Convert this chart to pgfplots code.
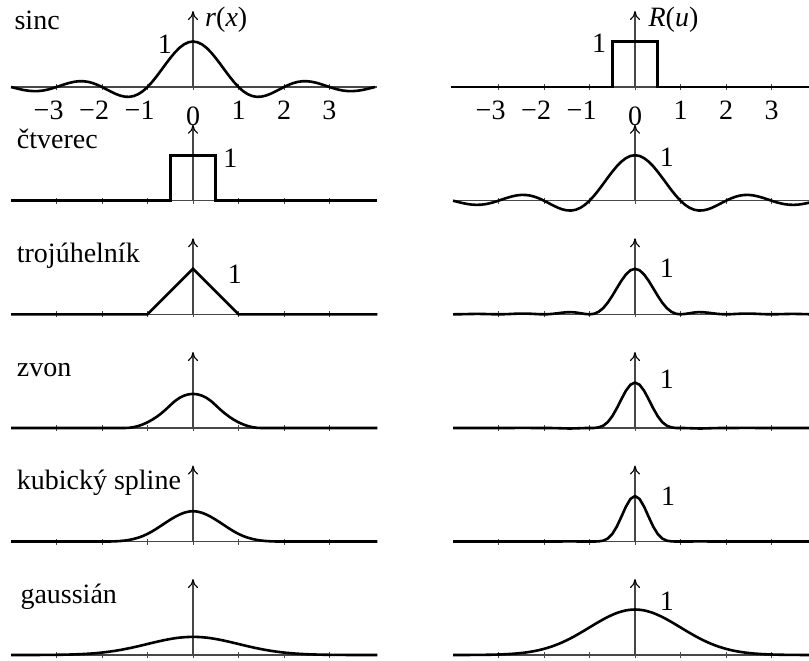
\documentclass[border=0pt]{standalone}
\usepackage{fontspec}
\setmainfont{Liberation Serif}
\usepackage{pgfplots}
\pgfplotsset{compat=1.18}
\usepackage{pgfplotstable}
\usetikzlibrary{arrows.meta}

\definecolor{axisgray}{gray}{0.28}

% sinc(u) = sin(pi u)/(pi u) and its powers, sampled every 0.1
\pgfplotstableread{
u s s2 s3 s4
-4.0 0.0000 0.0000 0.0000 0.0000
-3.9 -0.0252 0.0006 0.0000 0.0000
-3.8 -0.0492 0.0024 -0.0001 0.0000
-3.7 -0.0696 0.0048 -0.0003 0.0000
-3.6 -0.0841 0.0071 -0.0006 0.0000
-3.5 -0.0909 0.0083 -0.0008 0.0001
-3.4 -0.0890 0.0079 -0.0007 0.0001
-3.3 -0.0780 0.0061 -0.0005 0.0000
-3.2 -0.0585 0.0034 -0.0002 0.0000
-3.1 -0.0317 0.0010 0.0000 0.0000
-3.0 0.0000 0.0000 0.0000 0.0000
-2.9 0.0339 0.0012 0.0000 0.0000
-2.8 0.0668 0.0045 0.0003 0.0000
-2.7 0.0954 0.0091 0.0009 0.0001
-2.6 0.1164 0.0136 0.0016 0.0002
-2.5 0.1273 0.0162 0.0021 0.0003
-2.4 0.1261 0.0159 0.0020 0.0003
-2.3 0.1120 0.0125 0.0014 0.0002
-2.2 0.0850 0.0072 0.0006 0.0001
-2.1 0.0468 0.0022 0.0001 0.0000
-2.0 0.0000 0.0000 0.0000 0.0000
-1.9 -0.0518 0.0027 -0.0001 0.0000
-1.8 -0.1039 0.0108 -0.0011 0.0001
-1.7 -0.1515 0.0229 -0.0035 0.0005
-1.6 -0.1892 0.0358 -0.0068 0.0013
-1.5 -0.2122 0.0450 -0.0096 0.0020
-1.4 -0.2162 0.0468 -0.0101 0.0022
-1.3 -0.1981 0.0392 -0.0078 0.0015
-1.2 -0.1559 0.0243 -0.0038 0.0006
-1.1 -0.0894 0.0080 -0.0007 0.0001
-1.0 0.0000 0.0000 0.0000 0.0000
-0.9 0.1093 0.0119 0.0013 0.0001
-0.8 0.2339 0.0547 0.0128 0.0030
-0.7 0.3679 0.1353 0.0498 0.0183
-0.6 0.5046 0.2546 0.1284 0.0648
-0.5 0.6366 0.4053 0.2580 0.1643
-0.4 0.7568 0.5728 0.4335 0.3281
-0.3 0.8584 0.7368 0.6325 0.5429
-0.2 0.9355 0.8751 0.8187 0.7659
-0.1 0.9836 0.9675 0.9517 0.9361
0.0 1.0000 1.0000 1.0000 1.0000
0.1 0.9836 0.9675 0.9517 0.9361
0.2 0.9355 0.8751 0.8187 0.7659
0.3 0.8584 0.7368 0.6325 0.5429
0.4 0.7568 0.5728 0.4335 0.3281
0.5 0.6366 0.4053 0.2580 0.1643
0.6 0.5046 0.2546 0.1284 0.0648
0.7 0.3679 0.1353 0.0498 0.0183
0.8 0.2339 0.0547 0.0128 0.0030
0.9 0.1093 0.0119 0.0013 0.0001
1.0 0.0000 0.0000 0.0000 0.0000
1.1 -0.0894 0.0080 -0.0007 0.0001
1.2 -0.1559 0.0243 -0.0038 0.0006
1.3 -0.1981 0.0392 -0.0078 0.0015
1.4 -0.2162 0.0468 -0.0101 0.0022
1.5 -0.2122 0.0450 -0.0096 0.0020
1.6 -0.1892 0.0358 -0.0068 0.0013
1.7 -0.1515 0.0229 -0.0035 0.0005
1.8 -0.1039 0.0108 -0.0011 0.0001
1.9 -0.0518 0.0027 -0.0001 0.0000
2.0 0.0000 0.0000 0.0000 0.0000
2.1 0.0468 0.0022 0.0001 0.0000
2.2 0.0850 0.0072 0.0006 0.0001
2.3 0.1120 0.0125 0.0014 0.0002
2.4 0.1261 0.0159 0.0020 0.0003
2.5 0.1273 0.0162 0.0021 0.0003
2.6 0.1164 0.0136 0.0016 0.0002
2.7 0.0954 0.0091 0.0009 0.0001
2.8 0.0668 0.0045 0.0003 0.0000
2.9 0.0339 0.0012 0.0000 0.0000
3.0 0.0000 0.0000 0.0000 0.0000
3.1 -0.0317 0.0010 0.0000 0.0000
3.2 -0.0585 0.0034 -0.0002 0.0000
3.3 -0.0780 0.0061 -0.0005 0.0000
3.4 -0.0890 0.0079 -0.0007 0.0001
3.5 -0.0909 0.0083 -0.0008 0.0001
3.6 -0.0841 0.0071 -0.0006 0.0000
3.7 -0.0696 0.0048 -0.0003 0.0000
3.8 -0.0492 0.0024 -0.0001 0.0000
3.9 -0.0252 0.0006 0.0000 0.0000
4.0 0.0000 0.0000 0.0000 0.0000
}\sinctab

\tikzset{
  lbl/.style={anchor=base west, inner sep=0pt},
  one/.style={anchor=center, inner sep=0pt},
}

\pgfplotsset{
  curve/.style={black, no markers, line width=1.3pt, line join=round},
  sharp/.style={black, no markers, line width=1.3pt, line join=miter},
  panel/.style={
    x=22.75pt, y=22.75pt,
    anchor=origin,
    axis lines=middle,
    xmin=-4, xmax=4.05, ymin=0, ymax=1.67,
    clip=false,
    xtick={-3,...,3}, ytick=\empty,
    xticklabels={},
    hide obscured x ticks=false,
    major tick length=3pt,
    tick align=center,
    every tick/.style={line width=0.5pt, axisgray},
    axis line style={line width=0.55pt, axisgray},
    x axis line style={-},
    y axis line style={-{To[length=4.5pt,width=5pt,color=black]}},
  },
  toplabels/.style={
    xticklabels={{\llap{−}3},{\llap{−}2},{\llap{−}1},{\raisebox{-2.5pt}[\height][0pt]{0}},1,2,3},
    xticklabel style={yshift=-3.5pt, inner sep=2pt},
  },
}

\begin{document}
\fontsize{14pt}{17pt}\selectfont
\begin{tikzpicture}
\path[use as bounding box] (0pt,0pt) rectangle (404.5pt,-330pt);

% ---------- row 1: sinc ----------
\begin{axis}[panel, toplabels, at={(96.5pt,-43.5pt)}]
  \addplot[curve] table[x=u, y=s] {\sinctab};
  \node[lbl] at (axis cs:-3.93,1.27) {sinc};
  \node[lbl] at (axis cs:0.26,1.33) {\textit{r}(\textit{x})};
  \node[one] at (axis cs:-0.62,0.95) {1};
\end{axis}
\begin{axis}[panel, toplabels, at={(317.5pt,-43.5pt)}]
  \addplot[sharp] coordinates {(-4.05,0) (-0.5,0) (-0.5,1) (0.5,1) (0.5,0) (4.05,0)};
  \node[lbl] at (axis cs:0.29,1.33) {\textit{R}(\textit{u})};
  \node[one] at (axis cs:-0.79,0.97) {1};
\end{axis}

% ---------- row 2: ctverec ----------
\begin{axis}[panel, at={(96.5pt,-100.35pt)}]
  \addplot[sharp] coordinates {(-4,0) (-0.5,0) (-0.5,1) (0.5,1) (0.5,0) (4.05,0)};
  \node[lbl] at (axis cs:-3.88,1.14) {čtverec};
  \node[one] at (axis cs:0.82,0.93) {1};
\end{axis}
\begin{axis}[panel, at={(317.5pt,-100.35pt)}]
  \addplot[curve] table[x=u, y=s] {\sinctab};
  \node[one] at (axis cs:0.70,0.96) {1};
\end{axis}

% ---------- row 3: trojuhelnik ----------
\begin{axis}[panel, at={(96.5pt,-157.15pt)}]
  \addplot[sharp] coordinates {(-4,0) (-1,0) (0,1) (1,0) (4.05,0)};
  \node[lbl] at (axis cs:-3.88,1.14) {trojúhelník};
  \node[one] at (axis cs:0.92,0.88) {1};
\end{axis}
\begin{axis}[panel, at={(317.5pt,-157.15pt)}]
  \addplot[curve] table[x=u, y=s2] {\sinctab};
  \node[one] at (axis cs:0.70,1.02) {1};
\end{axis}

% ---------- row 4: zvon (quadratic B-spline) ----------
\begin{axis}[panel, at={(96.5pt,-214pt)}]
  \addplot[curve] coordinates {
    (-4,0) (-1.6,0) (-1.5,0) (-1.4,0.005) (-1.3,0.02) (-1.2,0.045) (-1.1,0.08)
    (-1.0,0.125) (-0.9,0.18) (-0.8,0.245) (-0.7,0.32) (-0.6,0.405) (-0.5,0.5)
    (-0.4,0.59) (-0.3,0.66) (-0.2,0.71) (-0.1,0.74) (0,0.75)
    (0.1,0.74) (0.2,0.71) (0.3,0.66) (0.4,0.59) (0.5,0.5) (0.6,0.405)
    (0.7,0.32) (0.8,0.245) (0.9,0.18) (1.0,0.125) (1.1,0.08) (1.2,0.045)
    (1.3,0.02) (1.4,0.005) (1.5,0) (1.6,0) (4.05,0)};
  \node[lbl] at (axis cs:-3.88,1.14) {zvon};
\end{axis}
\begin{axis}[panel, at={(317.5pt,-214pt)}]
  \addplot[curve] table[x=u, y=s3] {\sinctab};
  \node[one] at (axis cs:0.70,1.07) {1};
\end{axis}

% ---------- row 5: cubic B-spline ----------
\begin{axis}[panel, at={(96.5pt,-270.75pt)}]
  \addplot[curve] coordinates {
    (-4,0) (-2.1,0) (-2.0,0) (-1.9,0.0002) (-1.8,0.0013) (-1.7,0.0045) (-1.6,0.0107)
    (-1.5,0.0208) (-1.4,0.0360) (-1.3,0.0572) (-1.2,0.0853) (-1.1,0.1215)
    (-1.0,0.1667) (-0.9,0.2212) (-0.8,0.2827) (-0.7,0.3482) (-0.6,0.4147)
    (-0.5,0.4792) (-0.4,0.5387) (-0.3,0.5902) (-0.2,0.6307) (-0.1,0.6572) (0,0.6667)
    (0.1,0.6572) (0.2,0.6307) (0.3,0.5902) (0.4,0.5387) (0.5,0.4792) (0.6,0.4147)
    (0.7,0.3482) (0.8,0.2827) (0.9,0.2212) (1.0,0.1667) (1.1,0.1215) (1.2,0.0853)
    (1.3,0.0572) (1.4,0.0360) (1.5,0.0208) (1.6,0.0107) (1.7,0.0045) (1.8,0.0013)
    (1.9,0.0002) (2.0,0) (2.1,0) (4.05,0)};
  \node[lbl] at (axis cs:-3.88,1.14) {kubický spline};
\end{axis}
\begin{axis}[panel, at={(317.5pt,-270.75pt)}]
  \addplot[curve] table[x=u, y=s4] {\sinctab};
  \node[one] at (axis cs:0.73,1.00) {1};
\end{axis}

% ---------- row 6: gaussian ----------
\begin{axis}[panel, at={(96.5pt,-327.5pt)}]
  \addplot[curve, smooth] coordinates {
    (-4,0.0001) (-3.8,0.0003) (-3.6,0.0006) (-3.4,0.0012) (-3.2,0.0024) (-3,0.0044)
    (-2.8,0.0079) (-2.6,0.0136) (-2.4,0.0224) (-2.2,0.0355) (-2,0.0540)
    (-1.8,0.0790) (-1.6,0.1109) (-1.4,0.1497) (-1.2,0.1942) (-1,0.2420)
    (-0.8,0.2897) (-0.6,0.3332) (-0.4,0.3683) (-0.2,0.3910) (0,0.3989)
    (0.2,0.3910) (0.4,0.3683) (0.6,0.3332) (0.8,0.2897) (1,0.2420)
    (1.2,0.1942) (1.4,0.1497) (1.6,0.1109) (1.8,0.0790) (2,0.0540)
    (2.2,0.0355) (2.4,0.0224) (2.6,0.0136) (2.8,0.0079) (3,0.0044)
    (3.2,0.0024) (3.4,0.0012) (3.6,0.0006) (3.8,0.0003) (4,0.0001) (4.05,0.0001)};
  \node[lbl] at (axis cs:-3.80,1.14) {gaussián};
\end{axis}
\begin{axis}[panel, at={(317.5pt,-327.5pt)}]
  \addplot[curve, smooth] coordinates {
    (-4,0.0003) (-3.8,0.0007) (-3.6,0.0015) (-3.4,0.0031) (-3.2,0.0060) (-3,0.0111)
    (-2.8,0.0198) (-2.6,0.0340) (-2.4,0.0561) (-2.2,0.0889) (-2,0.1353)
    (-1.8,0.1979) (-1.6,0.2780) (-1.4,0.3753) (-1.2,0.4868) (-1,0.6065)
    (-0.8,0.7261) (-0.6,0.8353) (-0.4,0.9231) (-0.2,0.9802) (0,1)
    (0.2,0.9802) (0.4,0.9231) (0.6,0.8353) (0.8,0.7261) (1,0.6065)
    (1.2,0.4868) (1.4,0.3753) (1.6,0.2780) (1.8,0.1979) (2,0.1353)
    (2.2,0.0889) (2.4,0.0561) (2.6,0.0340) (2.8,0.0198) (3,0.0111)
    (3.2,0.0060) (3.4,0.0031) (3.6,0.0015) (3.8,0.0007) (4,0.0003)};
  \node[one] at (axis cs:0.70,1.19) {1};
\end{axis}
\end{tikzpicture}
\end{document}
